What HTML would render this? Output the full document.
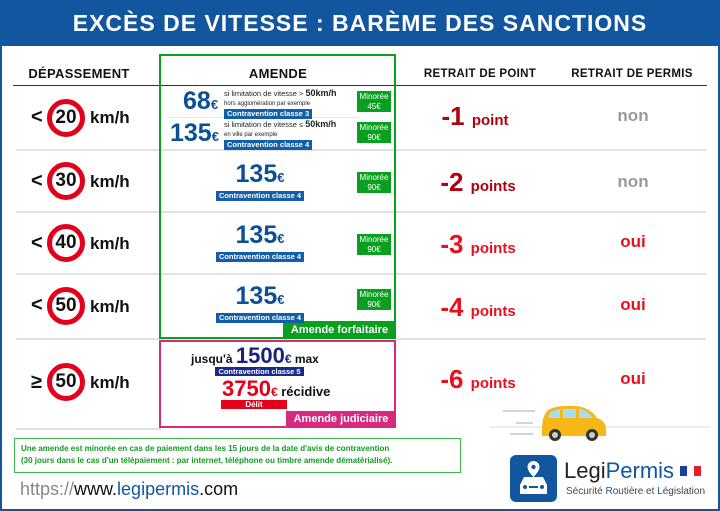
<!DOCTYPE html>
<html><head><meta charset="utf-8"><style>
*{margin:0;padding:0;box-sizing:border-box}
body{width:720px;height:511px;position:relative;background:#fff;font-family:"Liberation Sans",Arial,sans-serif;overflow:hidden}
.a{position:absolute}
.hd{font-weight:bold;font-size:12px;color:#111;text-align:center;letter-spacing:0.3px}
.sep{position:absolute;left:16px;width:690px;height:2px;background:#e2e2e2}
.circ{position:absolute;width:38px;height:38px;border-radius:50%;border:5px solid #e2001a;background:#fff;font-weight:bold;font-size:19px;color:#111;text-align:center;line-height:28px}
.lt{position:absolute;font-weight:bold;font-size:20px;color:#111}
.km{position:absolute;font-weight:bold;font-size:17px;color:#111}
.big{color:#0d4f96;font-weight:bold}
.cls{background:#125ea8;color:#fff;font-weight:bold;font-size:7.5px;padding:0 3px;line-height:10px;display:inline-block;vertical-align:top}
.min{position:absolute;left:357px;width:34px;height:21px;background:#09a020;color:#fff;font-size:8px;text-align:center;line-height:10px;padding-top:1px}
.pt{position:absolute;font-weight:bold;font-size:26px;width:150px;text-align:center}
.pt span{font-size:15px}
.pm{position:absolute;font-weight:bold;font-size:17px;width:80px;text-align:center}
.row135{position:absolute;left:160px;width:200px;text-align:center;line-height:10px}
.row135 .big{font-size:25px;line-height:27px}
</style></head><body>
<div class="a" style="left:0;top:0;width:720px;height:511px;border:2px solid #1356a0;border-top:none"></div>
<div class="a" style="left:0;top:0;width:720px;height:46px;background:#1356a0;color:#fff;font-weight:bold;font-size:23px;text-align:center;line-height:46px;letter-spacing:1px">EXCÈS DE VITESSE : BARÈME DES SANCTIONS</div>

<div class="a hd" style="left:14px;top:66px;width:130px;font-size:13px">DÉPASSEMENT</div>
<div class="a hd" style="left:160px;top:66px;width:236px;font-size:13px">AMENDE</div>
<div class="a hd" style="left:410px;top:68px;width:140px;font-size:11.5px">RETRAIT DE POINT</div>
<div class="a hd" style="left:562px;top:68px;width:140px;font-size:11.5px">RETRAIT DE PERMIS</div>
<div class="a" style="left:13px;top:85px;width:694px;height:1px;background:#333"></div>

<div class="sep" style="top:149px"></div>
<div class="sep" style="top:211px"></div>
<div class="sep" style="top:273px"></div>
<div class="sep" style="top:338px"></div>
<div class="sep" style="top:428px;width:145px"></div>

<div class="lt" style="left:31px;top:106px">&lt;</div><div class="circ" style="left:47px;top:99px">20</div><div class="km" style="left:90px;top:108px">km/h</div>
<div class="lt" style="left:31px;top:170px">&lt;</div><div class="circ" style="left:47px;top:162px">30</div><div class="km" style="left:90px;top:172px">km/h</div>
<div class="lt" style="left:31px;top:232px">&lt;</div><div class="circ" style="left:47px;top:224px">40</div><div class="km" style="left:90px;top:234px">km/h</div>
<div class="lt" style="left:31px;top:294px">&lt;</div><div class="circ" style="left:47px;top:287px">50</div><div class="km" style="left:90px;top:297px">km/h</div>
<div class="lt" style="left:31px;top:371px">≥</div><div class="circ" style="left:47px;top:363px">50</div><div class="km" style="left:90px;top:373px">km/h</div>

<div class="a" style="left:159px;top:54px;width:237px;height:285px;border:2px solid #09a020"></div>
<div class="a" style="left:283px;top:321px;width:113px;height:18px;background:#09a020;color:#fff;font-weight:bold;font-size:11px;text-align:center;line-height:18px">Amende forfaitaire</div>
<div class="a" style="left:159px;top:340px;width:237px;height:88px;border:2px solid #d6297f"></div>
<div class="a" style="left:286px;top:411px;width:110px;height:17px;background:#d6297f;color:#fff;font-weight:bold;font-size:11px;text-align:center;line-height:17px">Amende judiciaire</div>

<div class="a" style="left:168px;top:117px;width:190px;height:1px;background:#e5e5e5"></div>
<div class="a big" style="left:183px;top:87px;font-size:25px">68<span style="font-size:13px">€</span></div>
<div class="a" style="left:224px;top:89px;font-size:7.5px;color:#222;line-height:9px;white-space:nowrap">si limitation de vitesse &gt; <b style="font-size:9px">50km/h</b><br><span style="font-size:6px">hors agglomération par exemple</span><br><span class="cls">Contravention classe 3</span></div>
<div class="min" style="top:91px">Minorée<br>45€</div>
<div class="a big" style="left:170px;top:119px;font-size:25px">135<span style="font-size:13px">€</span></div>
<div class="a" style="left:224px;top:120px;font-size:7.5px;color:#222;line-height:9px;white-space:nowrap">si limitation de vitesse ≤ <b style="font-size:9px">50km/h</b><br><span style="font-size:6px">en ville par exemple</span><br><span class="cls">Contravention classe 4</span></div>
<div class="min" style="top:122px">Minorée<br>90€</div>

<div class="row135" style="top:161px"><div class="big">135<span style="font-size:13px">€</span></div><span class="cls">Contravention classe 4</span></div>
<div class="min" style="top:172px">Minorée<br>90€</div>
<div class="row135" style="top:222px"><div class="big">135<span style="font-size:13px">€</span></div><span class="cls">Contravention classe 4</span></div>
<div class="min" style="top:234px">Minorée<br>90€</div>
<div class="row135" style="top:283px"><div class="big">135<span style="font-size:13px">€</span></div><span class="cls">Contravention classe 4</span></div>
<div class="min" style="top:289px">Minorée<br>90€</div>

<div class="a" style="left:191px;top:343px;font-weight:bold;font-size:12px;color:#111;white-space:nowrap">jusqu'à <span style="font-size:22px;color:#17237d">1500<span style="font-size:12px">€</span></span> max</div>
<div class="a" style="left:215px;top:367px;width:89px;height:9px;background:#1a2a8a;color:#fff;font-size:7.5px;font-weight:bold;text-align:center;line-height:9px">Contravention classe 5</div>
<div class="a" style="left:222px;top:376px;font-weight:bold;font-size:13px;color:#111;white-space:nowrap"><span style="font-size:22px;color:#e2001a">3750<span style="font-size:12px">€</span></span> récidive</div>
<div class="a" style="left:221px;top:400px;width:66px;height:9px;background:#e2001a;color:#fff;font-size:8px;font-weight:bold;text-align:center;line-height:9px">Délit</div>

<div class="pt" style="left:400px;top:101px;color:#b0000e">-1 <span>point</span></div>
<div class="pt" style="left:403px;top:167px;color:#b0000e">-2 <span>points</span></div>
<div class="pt" style="left:403px;top:229px;color:#e8101f">-3 <span>points</span></div>
<div class="pt" style="left:403px;top:292px;color:#e8101f">-4 <span>points</span></div>
<div class="pt" style="left:403px;top:364px;color:#e8101f">-6 <span>points</span></div>
<div class="pm" style="left:593px;top:106px;color:#999">non</div>
<div class="pm" style="left:593px;top:172px;color:#999">non</div>
<div class="pm" style="left:593px;top:232px;color:#e8101f">oui</div>
<div class="pm" style="left:593px;top:295px;color:#e8101f">oui</div>
<div class="pm" style="left:593px;top:369px;color:#e8101f">oui</div>

<div class="a" style="left:14px;top:438px;width:447px;height:35px;border:1px solid #3db84a;color:#139a20;font-weight:bold;font-size:8px;line-height:12px;padding:4px 0 0 6px;white-space:nowrap">Une amende est minorée en cas de paiement dans les 15 jours de la date d'avis de contravention<br>(30 jours dans le cas d'un télépaiement : par internet, téléphone ou timbre amende dématérialisé).</div>
<div class="a" style="left:20px;top:479px;font-size:18px;color:#111"><span style="color:#888">https://</span>www.<span style="color:#1356a0">legipermis</span>.com</div>

<svg class="a" style="left:490px;top:404px" width="226" height="40">
<line x1="0" y1="23" x2="220" y2="23" stroke="#ddd" stroke-width="1"/>
<line x1="13" y1="7" x2="45" y2="7" stroke="#aaa"/><line x1="26" y1="19" x2="43" y2="19" stroke="#aaa"/><line x1="20" y1="30" x2="43" y2="30" stroke="#aaa"/>
<path d="M52 25 Q52 12 58 6 Q66 1 85 2 Q100 3 107 14 Q116 17 116 25 L116 32 L52 32 Z" fill="#f6b717"/>
<path d="M60 8 L70 5 L70 14 L58 14 Z M73 5 L86 5 L86 14 L73 14 Z M89 5 Q98 6 103 14 L89 14 Z" fill="#a8dcf0"/>
<circle cx="65" cy="31" r="6" fill="#333"/><circle cx="65" cy="31" r="3" fill="#ccc"/>
<circle cx="102" cy="31" r="6" fill="#333"/><circle cx="102" cy="31" r="3" fill="#ccc"/>
</svg>
<div class="a" style="left:510px;top:455px;width:47px;height:47px;background:#1356a0;border-radius:6px"></div>
<svg class="a" style="left:510px;top:455px" width="47" height="47">
<path d="M23.5 6 a6 6 0 0 1 6 6 q0 4 -6 10 q-6 -6 -6 -10 a6 6 0 0 1 6 -6z" fill="#fff"/><circle cx="23.5" cy="12" r="2.2" fill="#1356a0"/>
<path d="M10 30 l4 -8 h19 l4 8 v9 h-27 z" fill="#fff"/><circle cx="15" cy="32" r="2" fill="#1356a0"/><circle cx="32" cy="32" r="2" fill="#1356a0"/><rect x="19" y="31" width="9" height="2" fill="#1356a0"/>
</svg>
<div class="a" style="left:564px;top:458px;font-size:22px;color:#222;white-space:nowrap">Legi<span style="color:#1356a0">Permis</span></div>
<div class="a" style="left:680px;top:466px;width:7px;height:10px;background:#1a3f9c"></div>
<div class="a" style="left:694px;top:466px;width:7px;height:10px;background:#e3202a"></div>
<div class="a" style="left:566px;top:486px;font-size:10px;color:#444;white-space:nowrap"><span style="color:#1356a0">S</span>écurité <span style="color:#1356a0">R</span>outière et <span style="color:#1356a0">L</span>égislation</div>
</body></html>
